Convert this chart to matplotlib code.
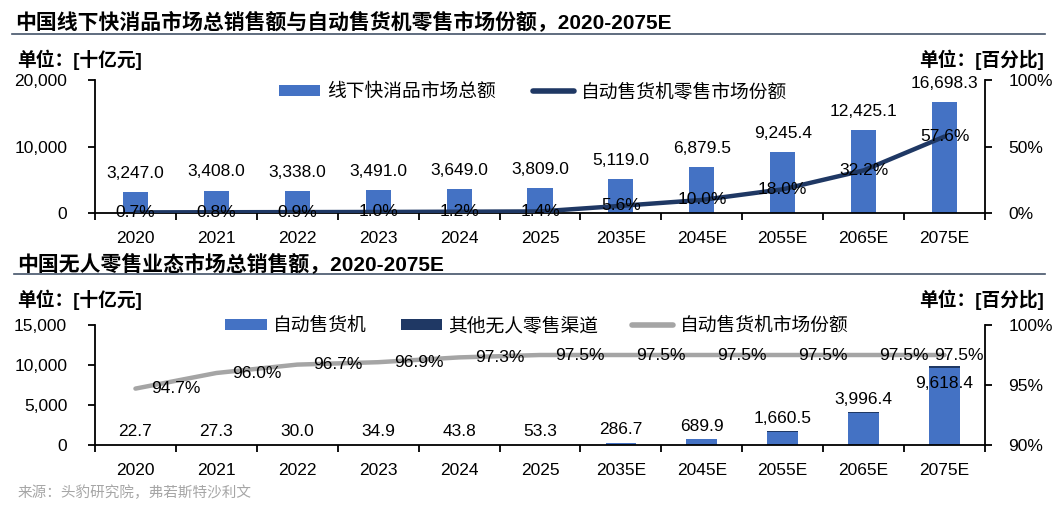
import matplotlib
matplotlib.use("Agg")
import matplotlib.pyplot as plt
from matplotlib.lines import Line2D
from matplotlib.patches import Patch
import numpy as np

plt.rcParams['font.family'] = ['Liberation Sans', 'Noto Sans CJK SC']

# ---------------- data ----------------
years = ['2020', '2021', '2022', '2023', '2024', '2025',
         '2035E', '2045E', '2055E', '2065E', '2075E']
fmcg_total = [3247.0, 3408.0, 3338.0, 3491.0, 3649.0, 3809.0,
              5119.0, 6879.5, 9245.4, 12425.1, 16698.3]
vending_share_fmcg = [0.7, 0.8, 0.9, 1.0, 1.2, 1.4, 5.6, 10.0, 18.0, 32.2, 57.6]
vending_sales = [22.7, 27.3, 30.0, 34.9, 43.8, 53.3,
                 286.7, 689.9, 1660.5, 3996.4, 9618.4]
other_unmanned = [1.3, 1.1, 1.0, 1.1, 1.2, 1.4, 7.4, 17.7, 42.6, 102.5, 246.6]
vending_share_unmanned = [94.7, 96.0, 96.7, 96.9, 97.3, 97.5,
                          97.5, 97.5, 97.5, 97.5, 97.5]

title1 = '中国线下快消品市场总销售额与自动售货机零售市场份额，2020-2075E'
title2 = '中国无人零售业态市场总销售额，2020-2075E'
unit_left = '单位：[十亿元]'
unit_right = '单位：[百分比]'
source = '来源：头豹研究院，弗若斯特沙利文'
leg1 = ['线下快消品市场总额', '自动售货机零售市场份额']
leg2 = ['自动售货机', '其他无人零售渠道', '自动售货机市场份额']

BLUE = '#4472C4'
NAVY = '#1F3864'
GRAY = '#A5A5A5'
LINEC = '#44546A'

W, H = 1057, 508
fig = plt.figure(figsize=(W / 100, H / 100), dpi=100)

NUM_FS = 12.5
CJK_FS = 13.5

def fx(px):
    return px / W

def fy(py):
    return 1 - py / H

x = np.arange(len(years))

def style_axes(ax, axr):
    for s in ['top', 'right']:
        ax.spines[s].set_visible(False)
    for s in ['top', 'left', 'bottom']:
        axr.spines[s].set_visible(False)
    ax.spines['left'].set_linewidth(1.3)
    ax.spines['bottom'].set_linewidth(1.3)
    axr.spines['right'].set_linewidth(1.3)
    ax.set_xlim(-0.5, len(years) - 0.5)
    ax.set_xticks(x)
    ax.set_xticklabels(years, fontsize=NUM_FS)
    ax.tick_params(axis='x', which='major', length=0, pad=13)
    ax.set_xticks(np.arange(-0.5, len(years)), minor=True)
    ax.tick_params(axis='x', which='minor', length=5, width=1.3, direction='out')
    ax.tick_params(axis='y', length=5, width=1.3, direction='out', labelsize=NUM_FS, pad=15)
    axr.tick_params(axis='y', length=5, width=1.3, direction='out', labelsize=NUM_FS, pad=12)

# ---------------- chart 1 ----------------
ax1 = fig.add_axes([fx(95), fy(213.3), fx(985) - fx(95), (213.3 - 80) / H])
ax1t = ax1.twinx()
ax1.bar(x, fmcg_total, width=0.31, color=BLUE, zorder=2)
ax1.set_ylim(0, 20000)
ax1.set_yticks([0, 10000, 20000])
ax1.set_yticklabels([f'{v:,.0f}' for v in [0, 10000, 20000]])
for i, v in enumerate(fmcg_total):
    ax1.annotate(f'{v:,.1f}', (i, v), xytext=(0, 8), textcoords='offset points',
                 ha='center', va='bottom', fontsize=NUM_FS)
ax1t.plot(x, vending_share_fmcg, color=NAVY, lw=3.2, solid_capstyle='round', zorder=3)
ax1t.set_ylim(0, 100)
ax1t.set_yticks([0, 50, 100])
ax1t.set_yticklabels(['0%', '50%', '100%'])
for i, v in enumerate(vending_share_fmcg):
    ax1t.text(i, v, f'{v:.1f}%', ha='center', va='center', fontsize=NUM_FS, zorder=5)
style_axes(ax1, ax1t)

# ---------------- chart 2 ----------------
ax2 = fig.add_axes([fx(95), fy(445), fx(985) - fx(95), (445 - 325) / H])
ax2t = ax2.twinx()
ax2.bar(x, vending_sales, width=0.38, color=BLUE, zorder=2)
ax2.bar(x, other_unmanned, width=0.38, bottom=vending_sales, color=NAVY, zorder=2)
ax2.set_ylim(0, 15000)
ax2.set_yticks([0, 5000, 10000, 15000])
ax2.set_yticklabels([f'{v:,.0f}' for v in [0, 5000, 10000, 15000]])
for i, v in enumerate(vending_sales):
    top = v + other_unmanned[i]
    if i == len(years) - 1:
        ax2.annotate(f'{v:,.1f}', (i, top), xytext=(0, -7), textcoords='offset points',
                     ha='center', va='top', fontsize=NUM_FS, zorder=4)
    else:
        ax2.annotate(f'{v:,.1f}', (i, top), xytext=(0, 4), textcoords='offset points',
                     ha='center', va='bottom', fontsize=NUM_FS)
ax2t.plot(x, vending_share_unmanned, color=GRAY, lw=3.2, solid_capstyle='round', zorder=3)
ax2t.set_ylim(90, 100)
ax2t.set_yticks([90, 95, 100])
ax2t.set_yticklabels(['90%', '95%', '100%'])
for i, v in enumerate(vending_share_unmanned):
    dx = 10 if i == len(years) - 1 else 29
    ax2t.annotate(f'{v:.1f}%', (i, v), xytext=(dx, 0), textcoords='offset points',
                  ha='center', va='center', fontsize=NUM_FS, zorder=5)
style_axes(ax2, ax2t)

# ---------------- legends ----------------
h1 = [Patch(facecolor=BLUE, edgecolor='none'),
      Line2D([0], [0], color=NAVY, lw=4, solid_capstyle='round')]
fig.legend(h1, leg1, loc='center', bbox_to_anchor=(fx(533), fy(92)), ncol=2,
           frameon=False, fontsize=CJK_FS, handlelength=2.2, handleheight=0.55,
           handletextpad=0.35, columnspacing=2.0, borderpad=0, borderaxespad=0)
h2 = [Patch(facecolor=BLUE, edgecolor='none'),
      Patch(facecolor=NAVY, edgecolor='none'),
      Line2D([0], [0], color=GRAY, lw=4, solid_capstyle='round')]
fig.legend(h2, leg2, loc='center', bbox_to_anchor=(fx(537), fy(326)), ncol=3,
           frameon=False, fontsize=CJK_FS, handlelength=2.2, handleheight=0.55,
           handletextpad=0.35, columnspacing=1.8, borderpad=0, borderaxespad=0)

# ---------------- titles / annotations ----------------
fig.text(fx(15), fy(22), title1, fontsize=15, fontweight='bold', va='center', ha='left')
fig.add_artist(Line2D([fx(12), fx(1045)], [fy(34), fy(34)], color=LINEC, lw=1.2))
fig.text(fx(17), fy(264), title2, fontsize=15, fontweight='bold', va='center', ha='left')
fig.add_artist(Line2D([fx(14), fx(1045)], [fy(274), fy(274)], color=LINEC, lw=1.2))

fig.text(fx(17), fy(60), unit_left, fontsize=13.5, fontweight='bold', va='center', ha='left')
fig.text(fx(1044), fy(60), unit_right, fontsize=13.5, fontweight='bold', va='center', ha='right')
fig.text(fx(17), fy(300), unit_left, fontsize=13.5, fontweight='bold', va='center', ha='left')
fig.text(fx(1044), fy(300), unit_right, fontsize=13.5, fontweight='bold', va='center', ha='right')

fig.text(fx(18), fy(493), source, fontsize=10.5, color='#A6A6A6', va='center', ha='left')

fig.savefig('out.png', dpi=100)
